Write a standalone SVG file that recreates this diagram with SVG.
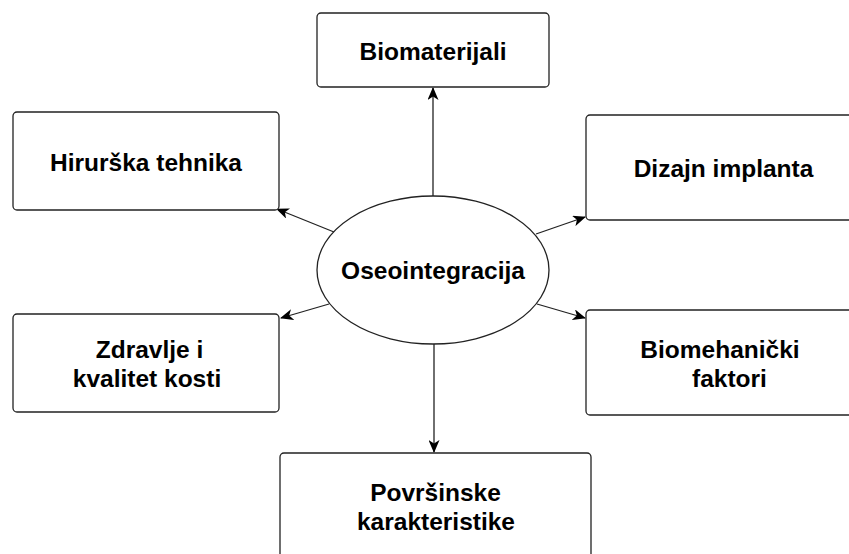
<svg xmlns="http://www.w3.org/2000/svg" width="849" height="554" viewBox="0 0 849 554">
<defs>
<style>
.box{fill:#fff;stroke:#222;stroke-width:1.3}
.lbl{font-family:"Liberation Sans",Arial,sans-serif;font-weight:bold;font-size:24.5px;fill:#000;text-anchor:middle}
.edge{stroke:#222;stroke-width:1.3;fill:none;marker-end:url(#arr)}
</style>
<marker id="arr" viewBox="0 0 13 11" refX="12" refY="5.5" markerWidth="13" markerHeight="11" markerUnits="userSpaceOnUse" orient="auto">
<path d="M0,0 L13,5.5 L0,11 L3.5,5.5 Z" fill="#000"/>
</marker>
</defs>
<rect width="849" height="554" fill="#fff"/>
<g id="connectors">
<line class="edge" x1="433" y1="196" x2="433" y2="88"/>
<line class="edge" x1="334" y1="232" x2="277" y2="209"/>
<line class="edge" x1="536" y1="234" x2="585" y2="217"/>
<line class="edge" x1="329" y1="304" x2="281" y2="318"/>
<line class="edge" x1="537" y1="304" x2="585" y2="318"/>
<line class="edge" x1="434" y1="344" x2="434" y2="452"/>
</g>
<g id="center">
<ellipse class="box" cx="433" cy="270" rx="116" ry="74"/>
<text class="lbl" x="433" y="279">Oseointegracija</text>
</g>
<g id="biomaterijali">
<rect class="box" x="317" y="13" width="232" height="74" rx="4"/>
<text class="lbl" x="433" y="60">Biomaterijali</text>
</g>
<g id="hirurska">
<rect class="box" x="13" y="112" width="266" height="98" rx="4"/>
<text class="lbl" x="146" y="171">Hirurška tehnika</text>
</g>
<g id="dizajn">
<rect class="box" x="586" y="115" width="275" height="105" rx="4"/>
<text class="lbl" x="723.5" y="177">Dizajn implanta</text>
</g>
<g id="zdravlje">
<rect class="box" x="13" y="314" width="266" height="98" rx="4"/>
<text class="lbl" x="149.5" y="358">Zdravlje i</text>
<text class="lbl" x="147" y="387">kvalitet kosti</text>
</g>
<g id="biomehanicki">
<rect class="box" x="586" y="310" width="275" height="105" rx="4"/>
<text class="lbl" x="720" y="358">Biomehanički</text>
<text class="lbl" x="729.5" y="387">faktori</text>
</g>
<g id="povrsinske">
<rect class="box" x="280" y="453" width="311" height="120" rx="4"/>
<text class="lbl" x="435.5" y="501">Površinske</text>
<text class="lbl" x="436" y="530">karakteristike</text>
</g>
</svg>
